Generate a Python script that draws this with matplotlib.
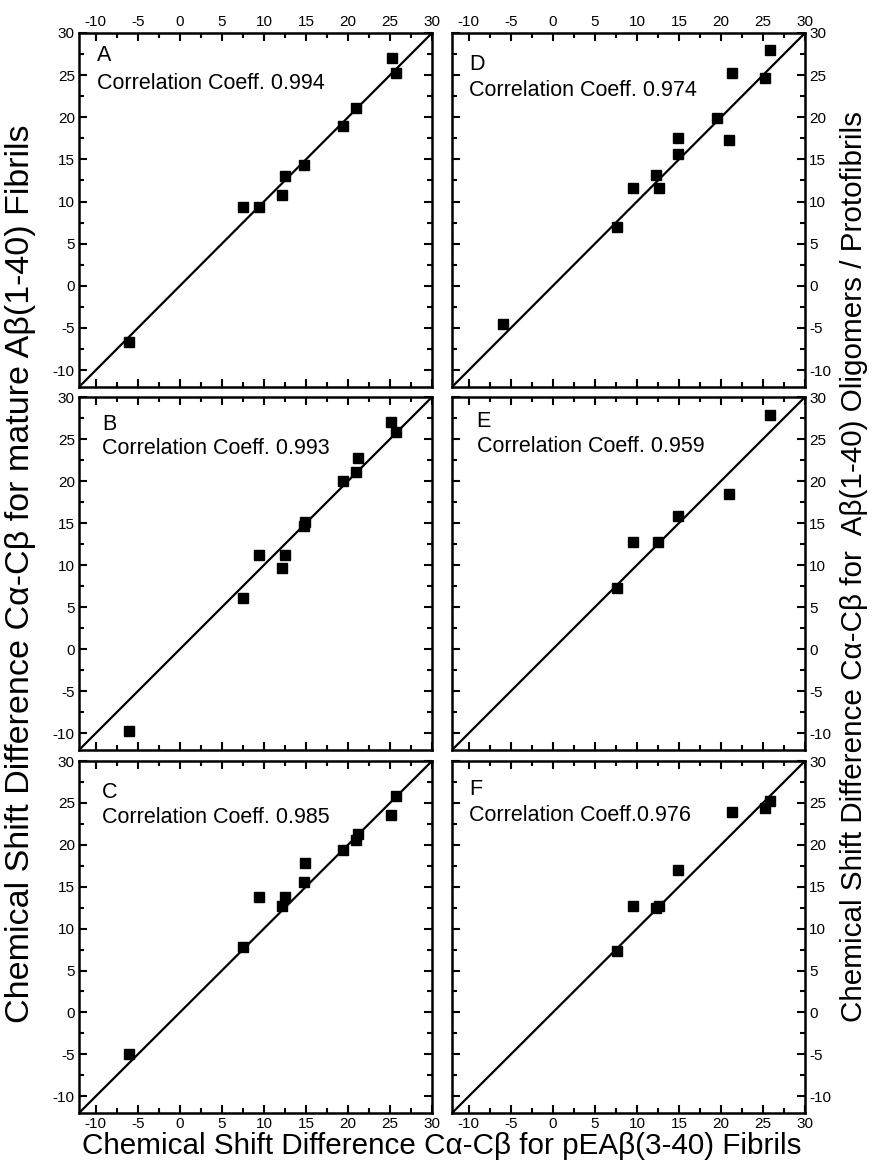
import matplotlib
matplotlib.use("Agg")
import matplotlib.pyplot as plt
from matplotlib.ticker import MultipleLocator

plt.rcParams['font.family'] = ['Liberation Sans', 'DejaVu Sans']
plt.rcParams['axes.unicode_minus'] = False

# Data (x: pEAβ(3-40) fibrils; y: comparison sample)
xA = [-6.0, 7.5, 9.4, 12.2, 12.5, 14.8, 19.4, 20.9, 25.2, 25.7]
yA = [-6.7, 9.4, 9.3, 10.8, 13.0, 14.3, 19.0, 21.1, 27.0, 25.2]

xB = [-6.0, 7.5, 9.4, 12.2, 12.5, 14.8, 14.9, 19.4, 20.9, 21.2, 25.1, 25.7]
yB = [-9.7, 6.1, 11.2, 9.6, 11.2, 14.6, 15.1, 20.0, 21.1, 22.8, 27.0, 25.8]

xC = [-6.0, 7.5, 9.4, 12.2, 12.5, 14.8, 14.9, 19.4, 20.9, 21.2, 25.1, 25.7]
yC = [-5.0, 7.8, 13.8, 12.7, 13.8, 15.6, 17.8, 19.4, 20.6, 21.3, 23.6, 25.8]

xD = [-5.9, 7.6, 9.5, 12.3, 12.6, 14.9, 14.9, 19.5, 21.0, 21.3, 25.3, 25.8]
yD = [-4.5, 7.0, 11.6, 13.1, 11.6, 17.5, 15.6, 19.9, 17.3, 25.3, 24.7, 28.0]

xE = [7.6, 9.5, 12.5, 14.9, 20.9, 25.8]
yE = [7.3, 12.7, 12.7, 15.8, 18.4, 27.9]

xF = [7.6, 9.5, 12.3, 12.6, 14.9, 21.3, 25.3, 25.8]
yF = [7.3, 12.7, 12.5, 12.7, 17.0, 23.9, 24.4, 25.2]

letters = ['A', 'B', 'C', 'D', 'E', 'F']
coeffs = ['Correlation Coeff. 0.994', 'Correlation Coeff. 0.993', 'Correlation Coeff. 0.985',
          'Correlation Coeff. 0.974', 'Correlation Coeff. 0.959', 'Correlation Coeff.0.976']
xs = [xA, xB, xC, xD, xE, xF]
ys = [yA, yB, yC, yD, yE, yF]

xlabel = 'Chemical Shift Difference Cα-Cβ for pEAβ(3-40) Fibrils'
ylabel_left = 'Chemical Shift Difference Cα-Cβ for mature Aβ(1-40) Fibrils'
ylabel_right = 'Chemical Shift Difference Cα-Cβ for  Aβ(1-40) Oligomers / Protofibrils'

W, H = 872, 1164
fig = plt.figure(figsize=(W / 100, H / 100), dpi=100)

cols = [(79, 432), (452, 805)]
rows = [(33, 387), (397, 750), (761, 1113)]
letter_pos = [[(0.05, 0.965), (0.065, 0.953), (0.065, 0.94)],
              [(0.048, 0.94), (0.07, 0.96), (0.048, 0.948)]]
coeff_pos = [[(0.05, 0.888), (0.065, 0.884), (0.065, 0.87)],
             [(0.048, 0.866), (0.07, 0.89), (0.048, 0.874)]]

lo, hi = -12, 30
k = 0
for c, (x0, x1) in enumerate(cols):
    for r, (y0, y1) in enumerate(rows):
        ax = fig.add_axes([x0 / W, 1 - y1 / H, (x1 - x0) / W, (y1 - y0) / H])
        ax.set_xlim(lo, hi)
        ax.set_ylim(lo, hi)
        ax.plot([lo, hi], [lo, hi], color='black', lw=1.6, zorder=2)
        ax.plot(xs[k], ys[k], 's', color='black', ms=7.5, zorder=3)
        ax.xaxis.set_major_locator(MultipleLocator(5))
        ax.xaxis.set_minor_locator(MultipleLocator(2.5))
        ax.yaxis.set_major_locator(MultipleLocator(5))
        ax.yaxis.set_minor_locator(MultipleLocator(2.5))
        ax.tick_params(which='both', direction='in', top=True, bottom=True,
                       left=True, right=True, width=1.5, colors='black',
                       labelsize=11, pad=3)
        ax.tick_params(which='major', length=6)
        ax.tick_params(which='minor', length=3.5)
        ax.tick_params(axis='x', labeltop=(r == 0), labelbottom=(r == 2))
        ax.tick_params(axis='y', labelleft=(c == 0), labelright=(c == 1))
        for s in ax.spines.values():
            s.set_linewidth(1.8)
        lx, ly = letter_pos[c][r]
        ax.text(lx, ly, letters[k], transform=ax.transAxes, fontsize=15.5,
                va='top', ha='left')
        cx, cy = coeff_pos[c][r]
        ax.text(cx, cy, coeffs[k], transform=ax.transAxes, fontsize=15.5,
                va='top', ha='left')
        k += 1

fig.text((83 + 800) / 2 / W, 1 - 1146 / H, xlabel, ha='center', va='center', fontsize=21.3)
fig.text(21 / W, 1 - 574 / H, ylabel_left, ha='center', va='center', rotation=90, fontsize=24.5)
fig.text(854 / W, 1 - 567 / H, ylabel_right, ha='center', va='center', rotation=90, fontsize=21.3)

fig.savefig('out.png', dpi=100)
